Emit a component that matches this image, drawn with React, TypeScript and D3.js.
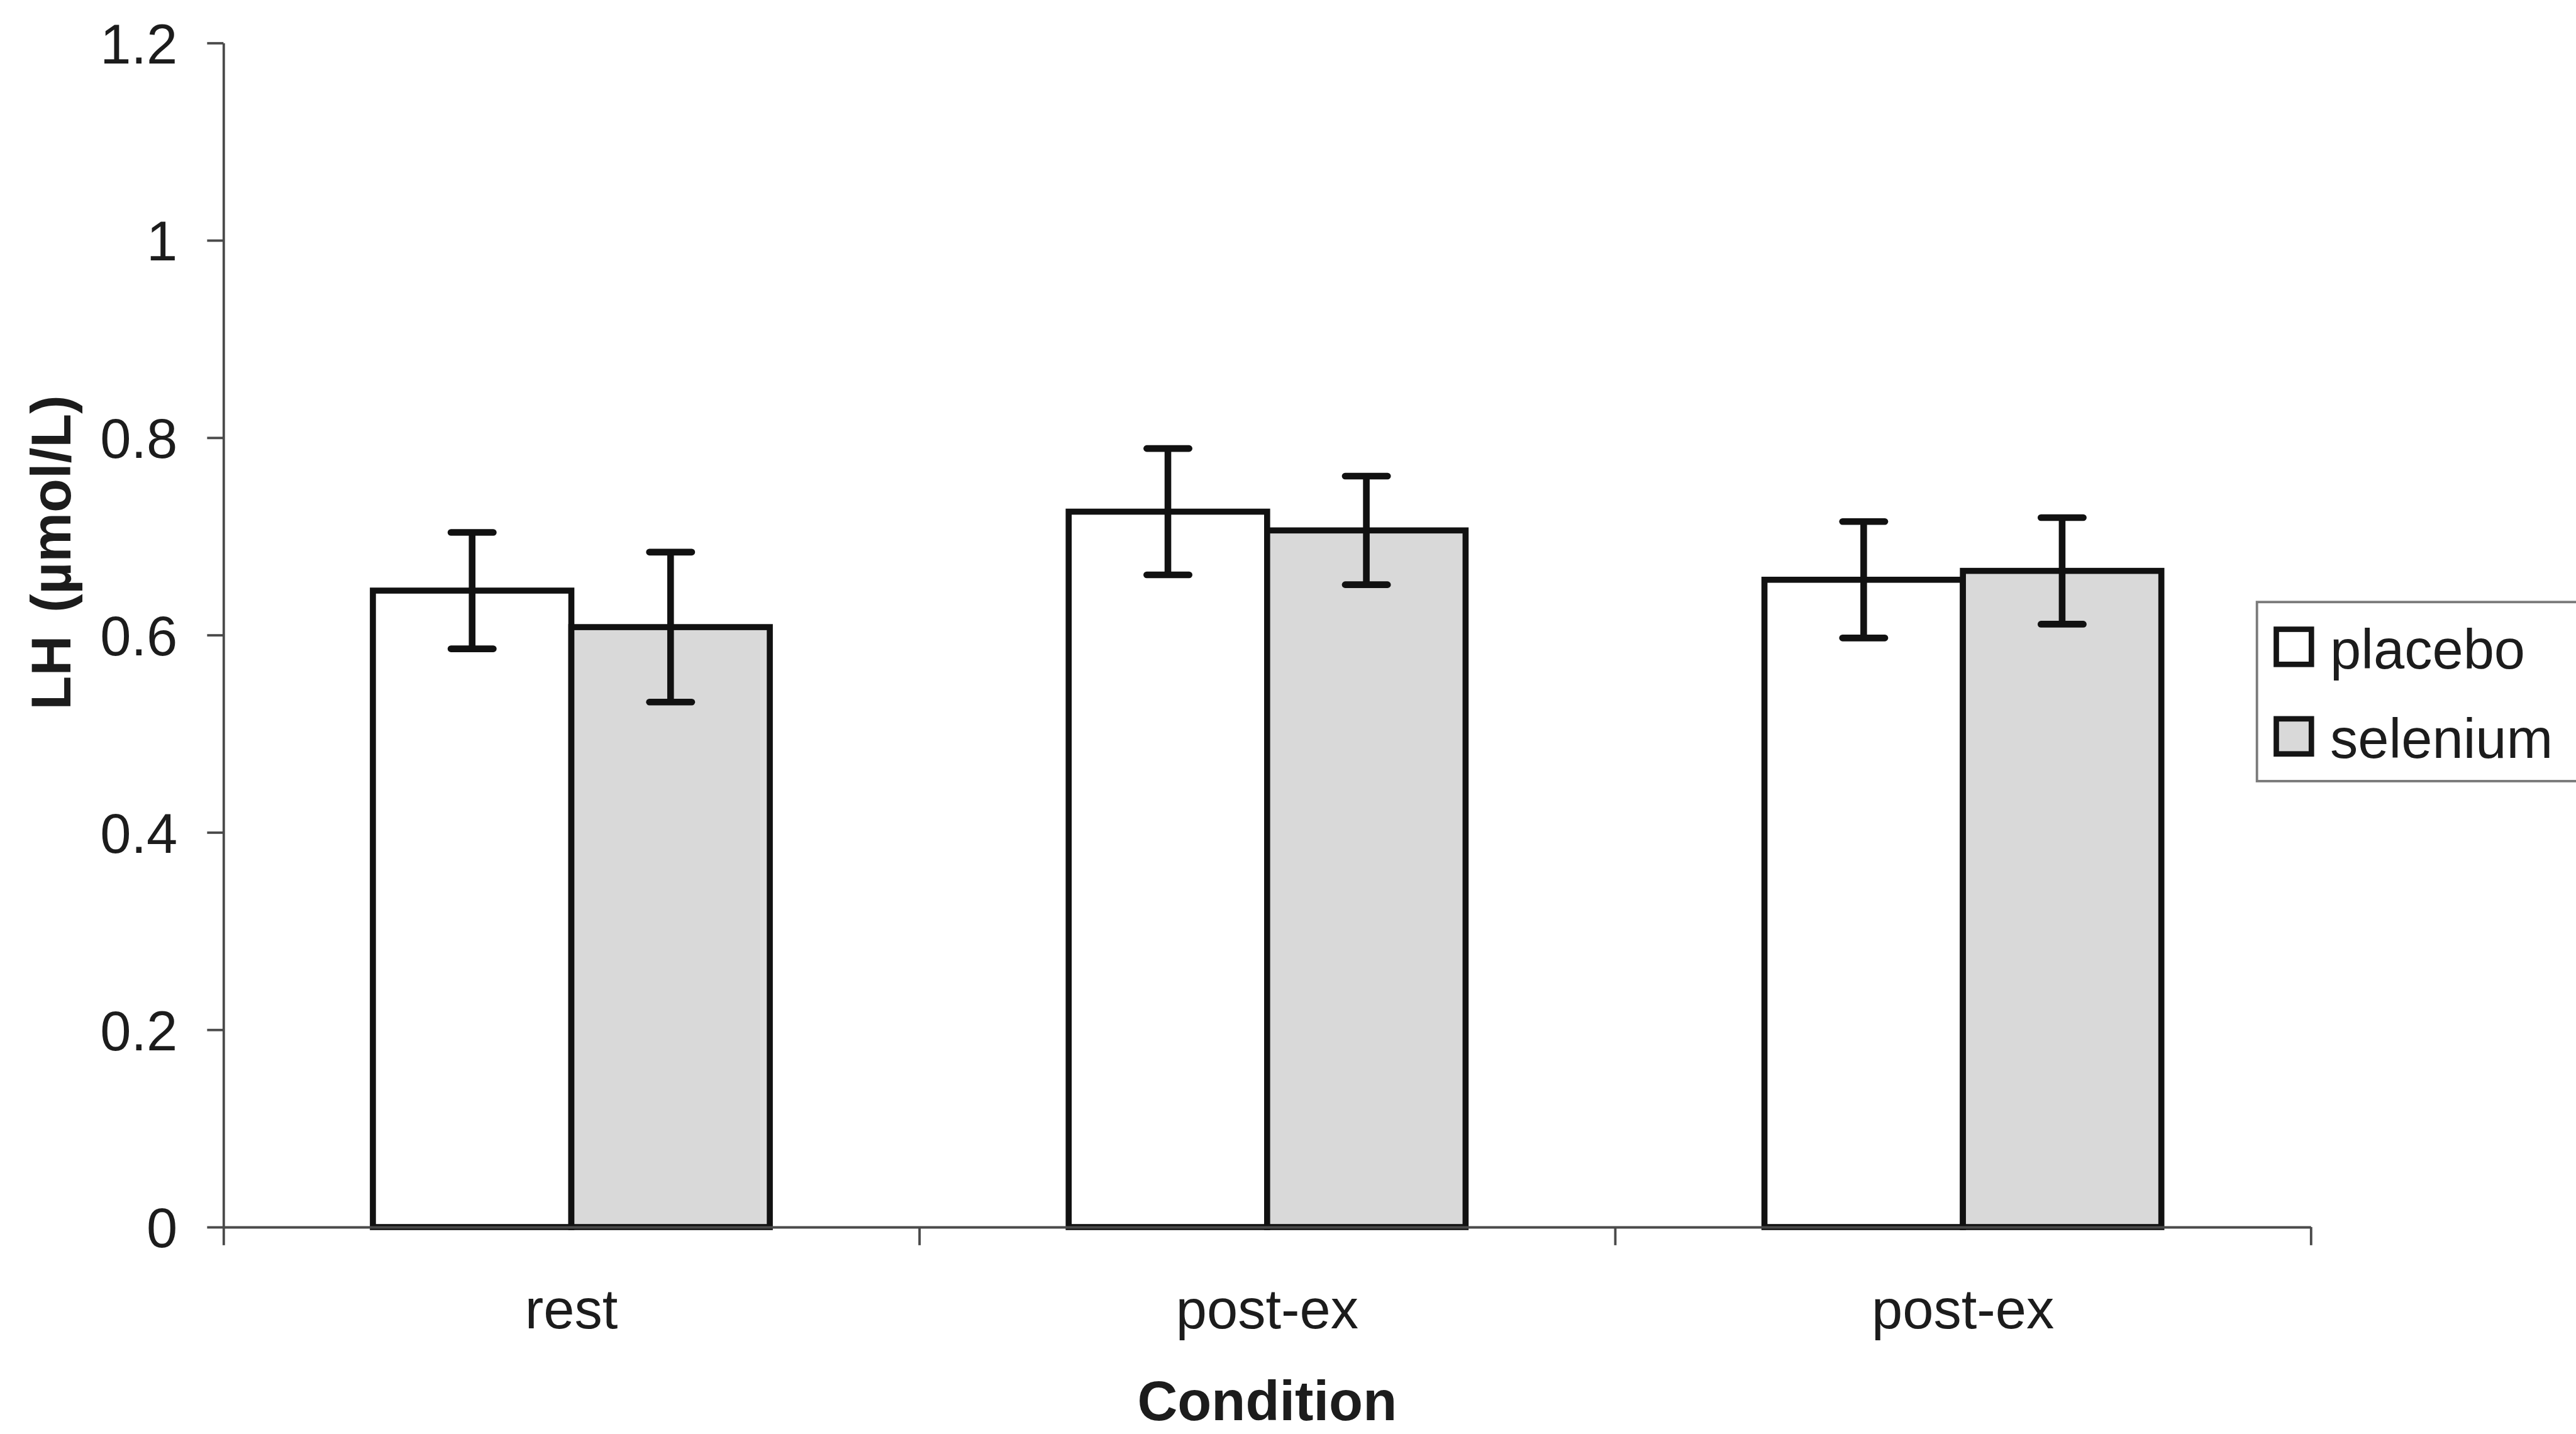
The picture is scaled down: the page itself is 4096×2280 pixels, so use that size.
import React, { useEffect, useRef } from "react";
import * as d3 from "d3";

// Condition groups along the x axis and the two treatment series
const categories = ["rest", "post-ex", "post-ex"];
const seriesNames = ["placebo", "selenium"];
const placeboMeans = [0.645, 0.725, 0.656];
const placeboErrors = [0.059, 0.064, 0.059];
const seleniumMeans = [0.608, 0.706, 0.665];
const seleniumErrors = [0.076, 0.055, 0.054];
const yTicks = [0, 0.2, 0.4, 0.6, 0.8, 1, 1.2];
const yTitle = ["LH", "(\u00b5mol/L)"];
const xTitle = "Condition";

const seriesFill = ["#ffffff", "#d9d9d9"];
const means = [placeboMeans, seleniumMeans];
const errors = [placeboErrors, seleniumErrors];

// Layout in the drawing's own coordinate space (scaled to the window by viewBox)
const W = 4257;
const H = 2370;
const plotLeft = 369;
const plotRight = 3819;
const plotTop = 71;
const plotBottom = 2028;
const FONT = "'Liberation Sans', Arial, Helvetica, sans-serif";
const FS = 92;
const TEXT = "#1c1c1c";
const AXIS = "#4a4a4a";

export default function App() {
  const yAxisRef = useRef<SVGGElement>(null);
  const xAxisRef = useRef<SVGGElement>(null);
  const xTickRef = useRef<SVGGElement>(null);

  const keys = categories.map((_, i) => String(i));
  const x = d3.scaleBand<string>().domain(keys).range([plotLeft, plotRight]).paddingInner(0).paddingOuter(0);
  const xSub = d3
    .scaleBand<string>()
    .domain(seriesNames)
    .range([0, x.bandwidth()])
    .paddingInner(0)
    .paddingOuter(0.753);
  const y = d3.scaleLinear().domain([0, 1.2]).range([plotBottom, plotTop]);
  const xBound = d3.scaleLinear().domain([0, categories.length]).range([plotLeft, plotRight]);

  useEffect(() => {
    if (yAxisRef.current) {
      const g = d3.select(yAxisRef.current);
      g.call(
        d3
          .axisLeft(y)
          .tickValues(yTicks)
          .tickFormat((d) => d3.format("~g")(d as number))
          .tickSize(27)
          .tickSizeOuter(0)
          .tickPadding(49)
      );
      g.select(".domain").attr("stroke", AXIS).attr("stroke-width", 4);
      g.selectAll(".tick line").attr("stroke", AXIS).attr("stroke-width", 4);
      g.selectAll(".tick text")
        .attr("fill", TEXT)
        .attr("font-size", FS)
        .attr("font-family", FONT)
        .attr("dy", "0.36em");
    }
    if (xTickRef.current) {
      const g = d3.select(xTickRef.current);
      g.call(
        d3
          .axisBottom(xBound)
          .tickValues(d3.range(categories.length + 1))
          .tickFormat(() => "")
          .tickSize(30)
          .tickSizeOuter(0)
      );
      g.select(".domain").attr("stroke", AXIS).attr("stroke-width", 4);
      g.selectAll(".tick line").attr("stroke", AXIS).attr("stroke-width", 4);
    }
    if (xAxisRef.current) {
      const g = d3.select(xAxisRef.current);
      g.call(
        d3
          .axisBottom(x)
          .tickFormat((k) => categories[+k])
          .tickSize(0)
          .tickPadding(102)
      );
      g.select(".domain").remove();
      g.selectAll(".tick text")
        .attr("fill", TEXT)
        .attr("font-size", FS)
        .attr("font-family", FONT);
    }
  }, []);

  const capHalf = 35;

  return (
    <svg
      width={4096}
      height={2280}
      viewBox={`0 0 ${W} ${H}`}
      style={{ position: "absolute", left: 0, top: 0, background: "#ffffff" }}
    >
      <rect x={0} y={0} width={W} height={H} fill="#ffffff" />

      {/* bars */}
      {keys.map((k, i) =>
        seriesNames.map((s, si) => {
          const x0 = (x(k) as number) + (xSub(s) as number);
          const v = means[si][i];
          return (
            <rect
              key={`bar-${k}-${s}`}
              x={x0}
              y={y(v)}
              width={xSub.bandwidth()}
              height={plotBottom - y(v)}
              fill={seriesFill[si]}
              stroke="#111111"
              strokeWidth={10}
            />
          );
        })
      )}

      {/* axes */}
      <g ref={xTickRef} transform={`translate(0,${plotBottom})`} />
      <g ref={yAxisRef} transform={`translate(${plotLeft},0)`} />
      <g ref={xAxisRef} transform={`translate(0,${plotBottom})`} />

      {/* error bars */}
      {keys.map((k, i) =>
        seriesNames.map((s, si) => {
          const cx = (x(k) as number) + (xSub(s) as number) + xSub.bandwidth() / 2;
          const v = means[si][i];
          const e = errors[si][i];
          const yHi = y(v + e);
          const yLo = y(v - e);
          return (
            <g key={`err-${k}-${s}`} stroke="#111111" strokeWidth={11}>
              <line x1={cx} x2={cx} y1={yHi} y2={yLo} />
              <line x1={cx - capHalf} x2={cx + capHalf} y1={yHi} y2={yHi} strokeLinecap="round" />
              <line x1={cx - capHalf} x2={cx + capHalf} y1={yLo} y2={yLo} strokeLinecap="round" />
            </g>
          );
        })
      )}

      {/* axis titles */}
      <text
        transform={`translate(116,653) rotate(-90)`}
        textAnchor="end"
        fontFamily={FONT}
        fontWeight="bold"
        fontSize={FS}
        fill={TEXT}
      >
        <tspan>{yTitle[0]}</tspan>
        <tspan dx={38}>{yTitle[1]}</tspan>
      </text>
      <text
        x={(plotLeft + plotRight) / 2}
        y={2347}
        textAnchor="middle"
        fontFamily={FONT}
        fontWeight="bold"
        fontSize={FS}
        fill={TEXT}
      >
        {xTitle}
      </text>

      {/* legend */}
      <g>
        <rect x={3730} y={995} width={700} height={296} fill="#ffffff" stroke="#7a7a7a" strokeWidth={4} />
        {seriesNames.map((s, si) => (
          <g key={`leg-${s}`} transform={`translate(0,${si * 148})`}>
            <rect x={3762} y={1040} width={58} height={58} fill={seriesFill[si]} stroke="#151515" strokeWidth={9} />
            <text x={3851} y={1105} fontFamily={FONT} fontSize={FS} fill={TEXT}>
              {s}
            </text>
          </g>
        ))}
      </g>
    </svg>
  );
}
